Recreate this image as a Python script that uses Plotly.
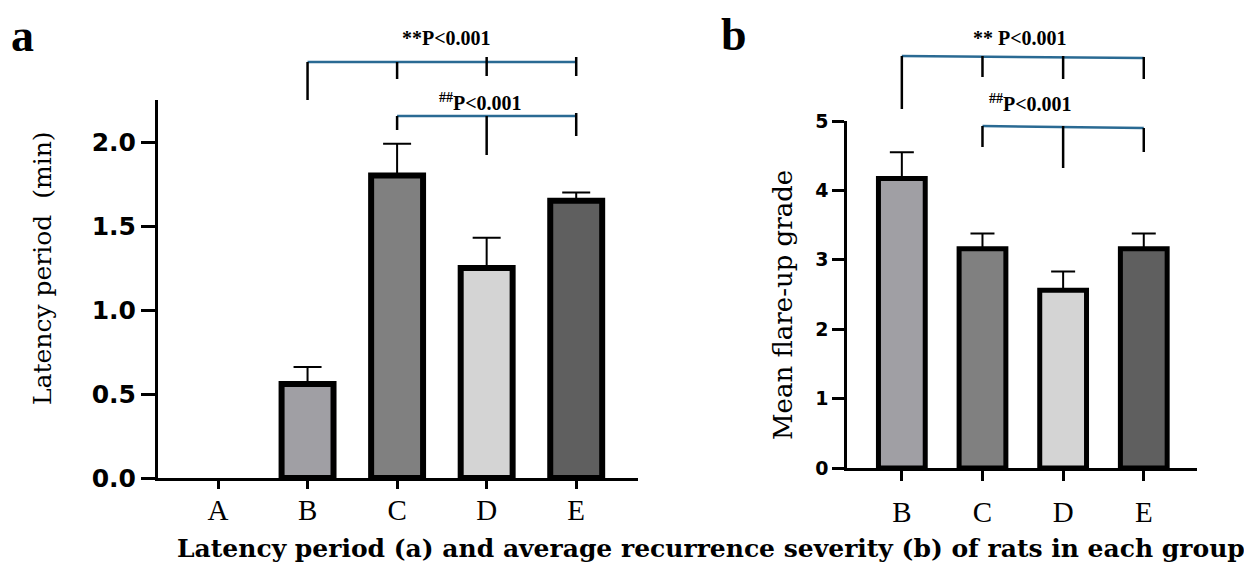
import plotly.graph_objects as go

# ---------------- data ----------------
groups_a = ["A", "B", "C", "D", "E"]
latency = [0, 0.56, 1.80, 1.25, 1.65]
latency_err = [0, 0.10, 0.19, 0.18, 0.05]

groups_b = ["B", "C", "D", "E"]
flare = [4.17, 3.16, 2.56, 3.16]
flare_err = [0.38, 0.22, 0.27, 0.22]

colors_a = ["#ffffff", "#a09fa4", "#808080", "#d4d4d4", "#5f5f5f"]
colors_b = ["#a09fa4", "#808080", "#d4d4d4", "#5f5f5f"]

yticks_a = [0, 0.5, 1.0, 1.5, 2.0]
yticklabels_a = ["0.0", "0.5", "1.0", "1.5", "2.0"]
yticks_b = [0, 1, 2, 3, 4, 5]

W, H = 1252, 569
OFF = 8  # page body margin


def px(x):
    return (x - OFF) / W


def py(y):
    return 1 - (y - OFF) / H


SERIF = "Liberation Serif"
WSERIF = "DejaVu Serif"
SANSB = "DejaVu Sans"

# group A has a zero value (no bar drawn)
shown_a = [i for i, v in enumerate(latency) if v > 0]

fig = go.Figure()

fig.add_trace(go.Bar(
    x=[groups_a[i] for i in shown_a], y=[latency[i] for i in shown_a], width=0.58,
    marker=dict(color=[colors_a[i] for i in shown_a], line=dict(color="black", width=6)),
    error_y=dict(type="data", symmetric=False, array=[latency_err[i] for i in shown_a],
                 arrayminus=[0] * len(shown_a), color="black",
                 thickness=2, width=14, visible=True),
    xaxis="x", yaxis="y", showlegend=False,
))

fig.add_trace(go.Bar(
    x=groups_b, y=flare, width=0.58,
    marker=dict(color=colors_b, line=dict(color="black", width=5)),
    error_y=dict(type="data", symmetric=False, array=flare_err,
                 arrayminus=[0] * len(flare_err), color="black",
                 thickness=2, width=12, visible=True),
    xaxis="x2", yaxis="y2", showlegend=False,
))

axis_common = dict(showgrid=False, zeroline=False, showline=True, linecolor="black",
                   ticks="outside", tickcolor="black", automargin=False)

fig.update_layout(
    width=W, height=H,
    margin=dict(l=0, r=0, t=0, b=0, autoexpand=False),
    paper_bgcolor="white", plot_bgcolor="white",
    xaxis=dict(**axis_common, domain=[px(158), px(638)], range=[-0.67, 4.69],
               type="category", categoryorder="array", categoryarray=groups_a,
               linewidth=3, ticklen=8, tickwidth=3, anchor="y",
               tickfont=dict(family=SERIF, size=29, color="black"),
               ticklabelstandoff=-4),
    yaxis=dict(**axis_common, domain=[py(478), py(100)], range=[0, 2.25],
               tickvals=yticks_a, ticktext=yticklabels_a,
               linewidth=3, ticklen=14, tickwidth=3, anchor="x",
               tickfont=dict(family=SANSB, size=25, color="black", weight="bold")),
    xaxis2=dict(**axis_common, domain=[px(847), px(1197)], range=[-0.68, 3.66],
                type="category", categoryorder="array", categoryarray=groups_b,
                linewidth=3, ticklen=10, tickwidth=3, anchor="y2",
                tickfont=dict(family=SERIF, size=29, color="black"),
                ticklabelstandoff=6),
    yaxis2=dict(**axis_common, domain=[py(468), py(121)], range=[0, 5],
                tickvals=yticks_b,
                linewidth=2.5, ticklen=12, tickwidth=2.5, anchor="x2",
                tickfont=dict(family=SANSB, size=19, color="black", weight="bold")),
)

BLUE = "#2a6a93"
shapes = []


def hline(xref, x0, x1, y0, y1):
    shapes.append(dict(type="line", xref=xref, yref="paper", x0=x0, x1=x1,
                       y0=py(y0), y1=py(y1), line=dict(color=BLUE, width=2.5)))


def vline(xref, x, y0, y1):
    shapes.append(dict(type="line", xref=xref, yref="paper", x0=x, x1=x,
                       y0=py(y0), y1=py(y1), line=dict(color="black", width=2.5)))


# panel a brackets
hline("x", "B", "E", 62, 62)
vline("x", "B", 62, 100)
vline("x", "C", 62, 79)
vline("x", "D", 57, 76)
vline("x", "E", 57, 76)
hline("x", "C", "E", 116, 116)
vline("x", "C", 116, 130)
vline("x", "D", 116, 155)
vline("x", "E", 113, 136)

# panel b brackets
hline("x2", "B", "E", 56, 58)
vline("x2", "B", 56, 109)
vline("x2", "C", 56, 77)
vline("x2", "D", 56, 79)
vline("x2", "E", 57, 79)
hline("x2", "C", "E", 126, 128)
vline("x2", "C", 126, 147)
vline("x2", "D", 126, 168)
vline("x2", "E", 128, 152)

fig.update_layout(shapes=shapes)

ann_font = dict(family=SERIF, size=20, color="black")
annotations = [
    dict(text="<b>**P&lt;0.001</b>", x=px(447), y=py(38)),
    dict(text="<b><sup>##</sup>P&lt;0.001</b>", x=px(480), y=py(102)),
    dict(text="<b>** P&lt;0.001</b>", x=px(1020), y=py(38)),
    dict(text="<b><sup>##</sup>P&lt;0.001</b>", x=px(1030), y=py(103)),
]
for a in annotations:
    fig.add_annotation(xref="paper", yref="paper", showarrow=False,
                       xanchor="center", yanchor="middle", font=ann_font, **a)

# axis titles
fig.add_annotation(text="Latency period  (min)", xref="paper", yref="paper",
                   x=px(42), y=py(268), textangle=-90, showarrow=False,
                   xanchor="center", yanchor="middle",
                   font=dict(family=WSERIF, size=25, color="black"))
fig.add_annotation(text="Mean flare-up grade", xref="paper", yref="paper",
                   x=px(783), y=py(305), textangle=-90, showarrow=False,
                   xanchor="center", yanchor="middle",
                   font=dict(family=WSERIF, size=26, color="black"))

fig.add_annotation(text="<b>a</b>", xref="paper", yref="paper", x=px(22), y=py(36),
                   showarrow=False, xanchor="center", yanchor="middle",
                   font=dict(family=SERIF, size=46, color="black"))
fig.add_annotation(text="<b>b</b>", xref="paper", yref="paper", x=px(734), y=py(34),
                   showarrow=False, xanchor="center", yanchor="middle",
                   font=dict(family=SERIF, size=46, color="black"))

fig.add_annotation(
    text="<b>Latency period (a) and average recurrence severity (b) of rats in each group</b>",
    xref="paper", yref="paper", x=px(711), y=py(548), showarrow=False,
    xanchor="center", yanchor="middle",
    font=dict(family=WSERIF, size=25, color="black"))

fig.write_html("out.html")
